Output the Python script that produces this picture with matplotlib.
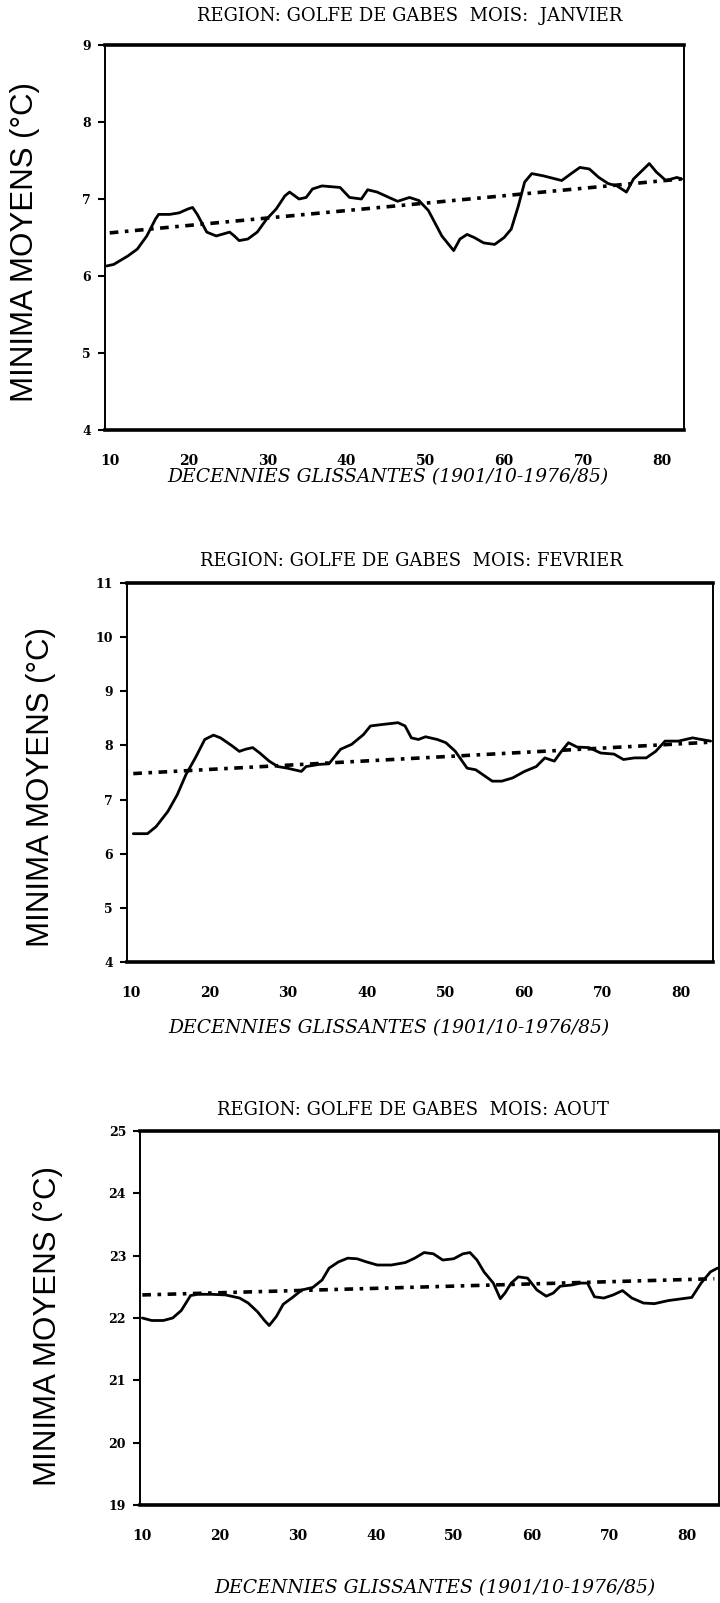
import matplotlib
matplotlib.use("Agg")
import matplotlib.pyplot as plt

# ---------------- data ----------------
# Panel 1 : JANVIER
jan_x = [9.6, 10.5, 12.3, 13.5, 14.7, 15.8, 16.2, 17.6, 18.8, 19.9, 20.5, 21.1, 22.3, 23.5, 25.2,
         25.8, 26.4, 27.5, 28.7, 29.9, 31.1, 32.2, 32.8, 34.0, 34.9, 35.7, 36.9, 39.2, 40.4, 41.9,
         42.7, 43.9, 45.4, 46.5, 48.0, 49.2, 50.4, 52.1, 53.6, 54.4, 55.3, 56.2, 57.4, 58.8, 60.0,
         60.9, 61.8, 62.6, 63.5, 65.0, 67.3, 68.5, 69.6, 70.8, 72.0, 73.2, 74.3, 75.5, 76.4, 77.3,
         78.4, 79.3, 80.5, 81.9, 82.5]
jan_y = [6.13, 6.15, 6.26, 6.35, 6.52, 6.74, 6.80, 6.80, 6.82, 6.87, 6.89, 6.80, 6.57, 6.52, 6.57,
         6.52, 6.46, 6.48, 6.57, 6.74, 6.87, 7.04, 7.09, 7.00, 7.02, 7.13, 7.17, 7.15, 7.02, 7.00,
         7.12, 7.09, 7.02, 6.97, 7.02, 6.98, 6.85, 6.52, 6.33, 6.48, 6.54, 6.50, 6.43, 6.41, 6.50,
         6.61, 6.91, 7.22, 7.33, 7.30, 7.24, 7.33, 7.41, 7.39, 7.28, 7.20, 7.17, 7.09, 7.26, 7.35,
         7.46, 7.35, 7.24, 7.28, 7.26]
jan_trend_x = [10.0, 82.5]
jan_trend_y = [6.56, 7.26]

# Panel 2 : FEVRIER
feb_x = [10.3, 12.1, 13.2, 14.7, 15.9, 17.0, 18.2, 19.4, 20.5, 21.4, 22.9, 23.8, 24.6, 25.5, 26.4,
         27.6, 28.7, 29.9, 31.7, 32.3, 34.0, 35.2, 36.7, 38.1, 39.6, 40.5, 42.2, 44.0, 44.9, 45.7,
         46.6, 47.5, 49.0, 50.1, 51.3, 52.8, 53.9, 54.8, 56.0, 57.2, 58.6, 60.1, 61.6, 62.7, 63.9,
         64.8, 65.7, 66.8, 68.3, 69.8, 71.5, 72.7, 74.1, 75.6, 76.8, 78.0, 79.7, 81.5, 82.6, 83.8]
feb_y = [6.37, 6.37, 6.50, 6.78, 7.09, 7.46, 7.77, 8.11, 8.19, 8.14, 7.99, 7.89, 7.93, 7.96, 7.86,
         7.71, 7.61, 7.58, 7.52, 7.61, 7.65, 7.66, 7.93, 8.02, 8.20, 8.36, 8.39, 8.42, 8.36, 8.14,
         8.11, 8.16, 8.11, 8.05, 7.89, 7.58, 7.55, 7.46, 7.34, 7.34, 7.40, 7.52, 7.61, 7.77, 7.71,
         7.89, 8.05, 7.97, 7.96, 7.86, 7.84, 7.74, 7.77, 7.77, 7.89, 8.08, 8.08, 8.14, 8.11, 8.08]
feb_trend_x = [10.3, 83.8]
feb_trend_y = [7.48, 8.06]

# Panel 3 : AOUT
aug_x = [10.0, 11.2, 12.7, 13.9, 15.0, 15.6, 16.2, 17.1, 18.9, 20.7, 22.5, 23.6, 24.8, 25.7, 26.3,
         27.2, 28.1, 29.3, 30.5, 31.9, 33.1, 34.0, 35.2, 36.4, 37.6, 38.8, 40.2, 42.0, 43.8, 45.0,
         46.2, 47.4, 48.6, 50.0, 51.2, 52.1, 53.0, 53.9, 55.1, 56.0, 56.6, 57.4, 58.3, 59.5, 60.7,
         61.9, 62.8, 63.7, 65.2, 66.3, 67.2, 68.1, 69.3, 70.5, 71.7, 72.9, 74.4, 75.8, 77.6, 79.4,
         80.6, 81.8, 83.0, 83.9]
aug_y = [22.00, 21.96, 21.96, 22.00, 22.12, 22.24, 22.36, 22.38, 22.38, 22.37, 22.32, 22.24, 22.10,
         21.96, 21.88, 22.02, 22.22, 22.33, 22.45, 22.49, 22.61, 22.80, 22.90, 22.96, 22.95, 22.90,
         22.85, 22.85, 22.89, 22.96, 23.05, 23.03, 22.93, 22.95, 23.03, 23.05, 22.93, 22.74, 22.56,
         22.31, 22.40, 22.56, 22.66, 22.64, 22.45, 22.35, 22.40, 22.51, 22.53, 22.56, 22.56, 22.34,
         22.32, 22.37, 22.44, 22.32, 22.24, 22.23, 22.28, 22.31, 22.33, 22.56, 22.74, 22.80]
aug_trend_x = [10.0, 83.5]
aug_trend_y = [22.37, 22.63]

x_ticks = [10, 20, 30, 40, 50, 60, 70, 80]
x_ticklabels = ["10", "20", "30", "40", "50", "60", "70", "80"]
jan_yticks = [4, 5, 6, 7, 8, 9]
feb_yticks = [4, 5, 6, 7, 8, 9, 10, 11]
aug_yticks = [19, 20, 21, 22, 23, 24, 25]

titles = ["REGION: GOLFE DE GABES  MOIS:  JANVIER",
          "REGION: GOLFE DE GABES  MOIS: FEVRIER",
          "REGION: GOLFE DE GABES  MOIS: AOUT"]
ylabel = "MINIMA MOYENS (°C)"
xlabel = "DECENNIES GLISSANTES (1901/10-1976/85)"

# ---------------- layout ----------------
W, H = 720, 1603
fig = plt.figure(figsize=(W / 100, H / 100), dpi=100)
fig.patch.set_facecolor("white")

def px_axes(l, r, t, b):
    return fig.add_axes([l / W, 1 - b / H, (r - l) / W, (b - t) / H])

panels = [
    dict(box=(105, 684, 45, 430), x=jan_x, y=jan_y, tx=jan_trend_x, ty=jan_trend_y,
         yt=jan_yticks, xlim=(9.4, 82.8), ylim=(4, 9),
         title_xy=(410, 16), xl_xy=(388, 477), yl_xy=(25, 242)),
    dict(box=(127, 713, 583, 962), x=feb_x, y=feb_y, tx=feb_trend_x, ty=feb_trend_y,
         yt=feb_yticks, xlim=(9.5, 84.1), ylim=(4, 11),
         title_xy=(411, 561), xl_xy=(389, 1028), yl_xy=(41, 787)),
    dict(box=(140, 719, 1131, 1505), x=aug_x, y=aug_y, tx=aug_trend_x, ty=aug_trend_y,
         yt=aug_yticks, xlim=(9.7, 84.1), ylim=(19, 25),
         title_xy=(413, 1110), xl_xy=(435, 1588), yl_xy=(48, 1326)),
]

serif = ["DejaVu Serif"]

for i, p in enumerate(panels):
    ax = px_axes(*p["box"])
    ax.plot(p["x"], p["y"], color="black", lw=2.0, solid_capstyle="round", zorder=3)
    ax.plot(p["tx"], p["ty"], color="black", lw=2.6,
            linestyle=(0, (2.4, 1.8, 1.0, 1.8)), zorder=2)
    ax.set_xlim(*p["xlim"])
    ax.set_ylim(*p["ylim"])
    ax.set_xticks(x_ticks)
    ax.set_xticklabels(x_ticklabels)
    ax.set_yticks(p["yt"])
    ax.set_yticklabels([str(v) for v in p["yt"]])
    for side in ["top", "bottom"]:
        ax.spines[side].set_linewidth(2.6)
    for side in ["left", "right"]:
        ax.spines[side].set_linewidth(1.4)
    ax.tick_params(axis="y", direction="out", length=5, width=1.5, pad=5, labelsize=9)
    ax.tick_params(axis="x", direction="out", length=0, pad=17, labelsize=10)
    for lab in ax.get_xticklabels() + ax.get_yticklabels():
        lab.set_family(serif)
        lab.set_fontweight("bold")

    tx, ty = p["title_xy"]
    fig.text(tx / W, 1 - ty / H, titles[i], ha="center", va="center",
             family=serif, fontsize=13)
    xx, xy = p["xl_xy"]
    fig.text(xx / W, 1 - xy / H, xlabel, ha="center", va="center",
             family=serif, style="italic", fontsize=13.5)
    yx, yy = p["yl_xy"]
    fig.text(yx / W, 1 - yy / H, ylabel, ha="center", va="center", rotation=90,
             family=["Liberation Sans", "DejaVu Sans"], fontsize=22.5)

fig.savefig("out.png", dpi=100, facecolor="white")
